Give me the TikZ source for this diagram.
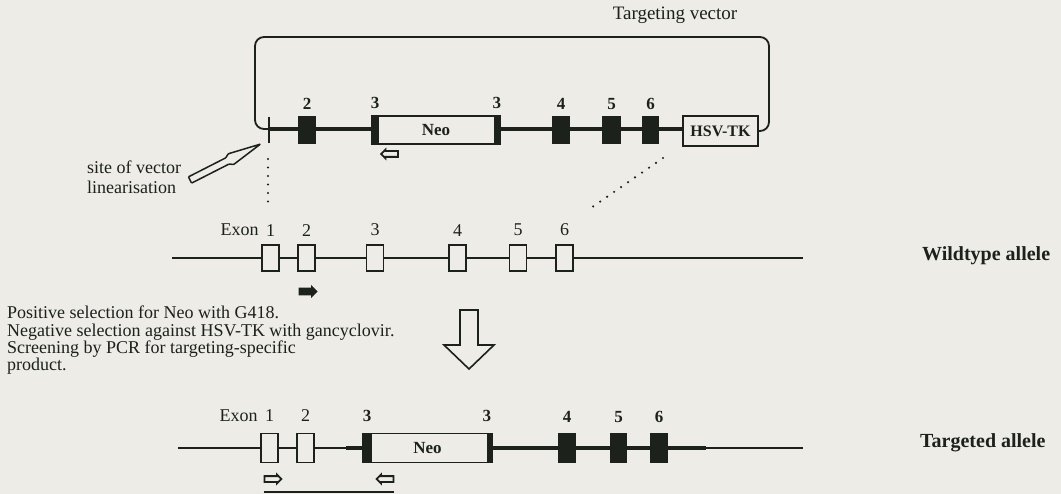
\documentclass[tikz,border=0pt]{standalone}
\usepackage{fontspec}
\setmainfont{Liberation Serif}
\usetikzlibrary{positioning,calc,shapes.arrows,backgrounds}
\definecolor{AlleleInk}{HTML}{1C211C}
\definecolor{AlleleSheet}{HTML}{EDECE6}

\begin{document}
\begin{tikzpicture}[
    x=1pt, y=-1pt,
    txt/.style={inner sep=0pt, text=AlleleInk, font=\fontsize{18}{20}\selectfont},
    num/.style={inner sep=0pt, text=AlleleInk, font=\fontsize{17}{17}\selectfont\bfseries},
    allele/.style={inner sep=0pt, text=AlleleInk, anchor=west, font=\fontsize{20}{20}\selectfont\bfseries},
    thinrun/.style={draw=AlleleInk, line width=1.5pt},
    thickrun/.style={draw=AlleleInk, line width=3.2pt},
    openexon/.style={draw=AlleleInk, fill=AlleleSheet, line width=1.4pt, inner sep=0pt,
      minimum width=17pt, minimum height=26pt},
    solidexon/.style={fill=AlleleInk, inner sep=0pt, minimum width=18pt, minimum height=28pt},
    cassette/.style={draw=AlleleInk, fill=AlleleSheet, line width=1.6pt, inner sep=0pt,
      minimum height=28pt, text=AlleleInk, font=\fontsize{17}{17}\selectfont\bfseries},
    primer/.style={single arrow, draw=AlleleInk, fill=AlleleSheet, line width=1.8pt,
      inner sep=2pt, minimum height=17pt, single arrow head extend=1.6pt},
    dots/.style={draw=AlleleInk, line width=2.4pt, line cap=round, dash pattern=on 0pt off 8.5pt}
  ]
    \useasboundingbox (0,0) rectangle (1061,494);

    % targeting vector
    \coordinate (cut) at (269,129);
    \coordinate (loopSW) at (255,129);
    \coordinate (loopNW) at (255,37);
    \coordinate (loopNE) at (769,37);
    \coordinate (loopSE) at (769,131);
    \node[solidexon] (v2) at (307,130) {};
    \node[cassette, minimum width=128pt] (vneo) at (436,130) {Neo};
    \node[solidexon] (v4) at (561,130) {};
    \node[solidexon, minimum width=19pt] (v5) at (611.5,130) {};
    \node[solidexon, minimum width=17pt] (v6) at (650.5,130) {};
    \node[cassette, minimum width=75pt, minimum height=30pt,
      font=\fontsize{16}{16}\selectfont\bfseries] (hsv) at (720.5,131) {HSV-TK};
    \fill[AlleleInk] (vneo.north west) rectangle ([xshift=8pt]vneo.south west);
    \fill[AlleleInk] (vneo.north east) rectangle ([xshift=-7pt]vneo.south east);

    \node[num, above=6pt of v2] (v2lab) {2};
    \node[num, above=6pt of vneo.north west, xshift=4pt] (v3alab) {3};
    \node[num, above=6pt of vneo.north east, xshift=-4pt] (v3blab) {3};
    \node[num, above=6pt of v4] (v4lab) {4};
    \node[num, above=6pt of v5] (v5lab) {5};
    \node[num, above=6pt of v6] (v6lab) {6};
    \node[primer, shape border rotate=180] (vrev) at (391,154) {};
    \node[txt, font=\fontsize{19}{19}\selectfont] (vtitle) at (675,15) {Targeting vector};

    \node[txt, align=left, anchor=north west] (cutnote) at (87,161) {site of vector\\linearisation};
    \begin{scope}[shift={(190,180)}, rotate=27]
      \draw[AlleleInk, line width=1.5pt, fill=AlleleSheet, rounded corners=0.8pt]
        (0,-3.5) -- (42,-3.5) -- (46,-6) -- (79,0) -- (46,6) -- (42,3.5) -- (0,3.5) -- cycle;
    \end{scope}

    % wildtype allele
    \coordinate (wtL) at (172,258);
    \coordinate (wtR) at (803,258);
    \node[openexon] (w1) at (270.5,258) {};
    \node[openexon] (w2) at (306.5,258) {};
    \node[openexon] (w3) at (375,258) {};
    \node[openexon] (w4) at (457.5,258) {};
    \node[openexon] (w5) at (518,258) {};
    \node[openexon] (w6) at (564.5,258) {};
    \node[txt, above=8pt of w1] (w1lab) {1};
    \node[txt, left=7pt of w1lab] (wexon) {Exon};
    \node[txt, above=8pt of w2] (w2lab) {2};
    \node[txt, above=8pt of w3] (w3lab) {3};
    \node[txt, above=8pt of w4] (w4lab) {4};
    \node[txt, above=8pt of w5] (w5lab) {5};
    \node[txt, above=8pt of w6] (w6lab) {6};
    \node[primer, fill=AlleleInk, below=16pt of w2] (wfwd) {};
    \node[allele] (wtname) at (922,256) {Wildtype allele};

    \coordinate (dotAtop) at (268,159);
    \coordinate (dotAbot) at (268,202);
    \coordinate (dotBtop) at (663,158);
    \coordinate (dotBbot) at (588,210);

    % selection step
    \node[txt, align=left, anchor=north west, font=\fontsize{18}{17.3}\selectfont] (selnote) at (7,306)
      {Positive selection for Neo with G418.\\Negative selection against HSV-TK with gancyclovir.\\Screening by PCR for targeting-specific\\product.};
    \draw[AlleleInk, line width=1.6pt, fill=AlleleSheet]
      (460,310) -- (478,310) -- (478,345) -- (494,345) -- (469,369) -- (444,345) -- (460,345) -- cycle;

    % targeted allele
    \coordinate (tgL) at (178,448);
    \coordinate (tgA) at (346,448);
    \coordinate (tgB) at (706,448);
    \coordinate (tgR) at (803,448);
    \node[openexon, minimum height=29pt] (t1) at (269.5,448) {};
    \node[openexon, minimum height=29pt] (t2) at (305.5,448) {};
    \node[cassette, minimum width=129pt, minimum height=29pt, text depth=-6pt] (tneo) at (427.5,448) {Neo};
    \node[solidexon, minimum height=30pt] (t4) at (567,448) {};
    \node[solidexon, minimum width=17pt, minimum height=30pt] (t5) at (618.5,448) {};
    \node[solidexon, minimum height=30pt] (t6) at (659,448) {};
    \fill[AlleleInk] (tneo.north west) rectangle ([xshift=10pt]tneo.south west);
    \fill[AlleleInk] (tneo.north east) rectangle ([xshift=-6pt]tneo.south east);

    \node[txt, above=11pt of t1] (t1lab) {1};
    \node[txt, left=7pt of t1lab] (texon) {Exon};
    \node[txt, above=11pt of t2] (t2lab) {2};
    \node[num, above=11pt of tneo.north west, xshift=5pt] (t3alab) {3};
    \node[num, above=11pt of tneo.north east, xshift=-6pt] (t3blab) {3};
    \node[num, above=10pt of t4] (t4lab) {4};
    \node[num, above=10pt of t5] (t5lab) {5};
    \node[num, above=10pt of t6] (t6lab) {6};
    \node[primer] (tfwd) at (271.5,479) {};
    \node[primer, shape border rotate=180] (trev) at (386.5,479) {};
    \coordinate (prodL) at ($(tfwd.west)+(0,13)$);
    \coordinate (prodR) at ($(trev.east)+(0,13)$);
    \draw[AlleleInk, line width=2.2pt] (prodL) -- (prodR);
    \node[allele] (tgname) at (920,443) {Targeted allele};

    \begin{scope}[on background layer]
      \fill[AlleleSheet] (0,0) rectangle (1061,494);
      \draw[AlleleInk, line width=1.8pt, rounded corners=9pt]
        (cut) -- (loopSW) -- (loopNW) -- (loopNE) -- (loopSE) -- (hsv.east);
      \draw[thickrun] (cut) -- (cut -| hsv.west);
      \draw[thinrun] ($(cut)+(0,-12)$) -- ($(cut)+(0,14)$);
      \draw[dots] (dotAtop) -- (dotAbot);
      \draw[dots] (dotBtop) -- (dotBbot);
      \draw[thinrun] (wtL) -- (wtR);
      \draw[thinrun] (tgL) -- (tgR);
      \draw[thickrun] (tgA) -- (tneo.west);
      \draw[thickrun] (tneo.east) -- (tgB);
    \end{scope}
\end{tikzpicture}
\end{document}
